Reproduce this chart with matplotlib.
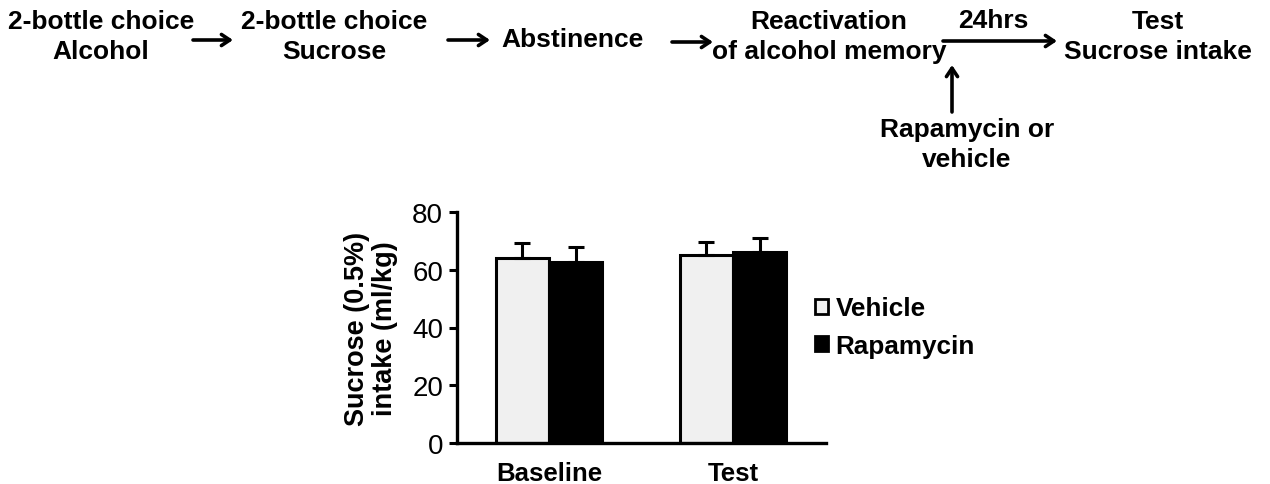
import numpy as np
import matplotlib
matplotlib.use("Agg")
import matplotlib.pyplot as plt
from matplotlib.patches import Patch

plt.rcParams['font.family'] = ['Liberation Sans', 'DejaVu Sans']

groups = ["Baseline", "Test"]
vehicle = [64.1, 65.1]
vehicle_err = [5.2, 4.6]
rapamycin = [62.8, 66.1]
rapamycin_err = [5.2, 4.9]
series_names = ["Vehicle", "Rapamycin"]
yticks = [0, 20, 40, 60, 80]

fig = plt.figure(figsize=(12.7, 4.85), dpi=100)

# --- bar chart ---
ax = fig.add_axes([457 / 1270, 1 - 444 / 485, (826 - 457) / 1270, (444 - 213) / 485])
x = np.arange(len(groups))
w = 0.29
ekw = dict(ecolor="black", elinewidth=2.2, capsize=6, capthick=2.2)
ax.bar(x - w / 2, vehicle, w, color="#f0f0f0", edgecolor="black", linewidth=2.2,
       yerr=[np.zeros(len(groups)), vehicle_err], error_kw=ekw, zorder=2)
ax.bar(x + w / 2, rapamycin, w, color="black", edgecolor="black", linewidth=2.2,
       yerr=[np.zeros(len(groups)), rapamycin_err], error_kw=ekw, zorder=2)
ax.set_xlim(-0.5, 1.505)
ax.set_ylim(0, 80)
ax.set_yticks(yticks)
ax.set_yticklabels([str(t) for t in yticks], fontsize=20)
ax.set_xticks(x)
ax.set_xticklabels(groups, fontsize=18.5, fontweight="bold")
ax.tick_params(axis="x", length=0, pad=13)
ax.tick_params(axis="y", length=6, width=2.2, direction="out", pad=4)
for s in ("top", "right"):
    ax.spines[s].set_visible(False)
for s in ("left", "bottom"):
    ax.spines[s].set_linewidth(2.4)
ax.set_ylabel("Sucrose (0.5%)\nintake (ml/kg)", fontsize=19.5, fontweight="bold",
              linespacing=1.1, labelpad=10)

handles = [Patch(facecolor="#f0f0f0", edgecolor="black", linewidth=2),
           Patch(facecolor="black", edgecolor="black", linewidth=2)]
ax.legend(handles, series_names, loc="center left", bbox_to_anchor=(791 / 1270, 1 - 328 / 485),
          bbox_transform=fig.transFigure, frameon=False, handlelength=0.5, handleheight=0.5,
          handletextpad=0.3, labelspacing=0.5, prop=dict(size=18.8, weight="bold"))

# --- timeline on top (pixel coordinates) ---
ov = fig.add_axes([0, 0, 1, 1], zorder=-1)
ov.set_xlim(0, 1270); ov.set_ylim(485, 0); ov.axis("off")
tk = dict(fontsize=19, fontweight="bold", ha="center", va="center", linespacing=1.32)
ov.text(101, 37, "2-bottle choice\nAlcohol", **tk)
ov.text(334, 37, "2-bottle choice\nSucrose", **tk)
ov.text(572, 40, "Abstinence", **tk)
ov.text(829, 37, "Reactivation\nof alcohol memory", **tk)
ov.text(993, 21, "24hrs", **tk)
ov.text(1158, 37, "Test\nSucrose intake", **tk)
ov.text(967, 145, "Rapamycin or\nvehicle", **tk)

ap = dict(arrowstyle="->,head_length=0.6,head_width=0.4", lw=2.6, color="black",
          shrinkA=0, shrinkB=0)
for x0, x1, yy in [(193, 233, 41), (448, 490, 41), (672, 713, 43), (943, 1057, 42)]:
    ov.annotate("", xy=(x1, yy), xytext=(x0, yy), arrowprops=ap)
ov.annotate("", xy=(952, 66), xytext=(952, 113), arrowprops=ap)

fig.savefig("out.png", dpi=100)
